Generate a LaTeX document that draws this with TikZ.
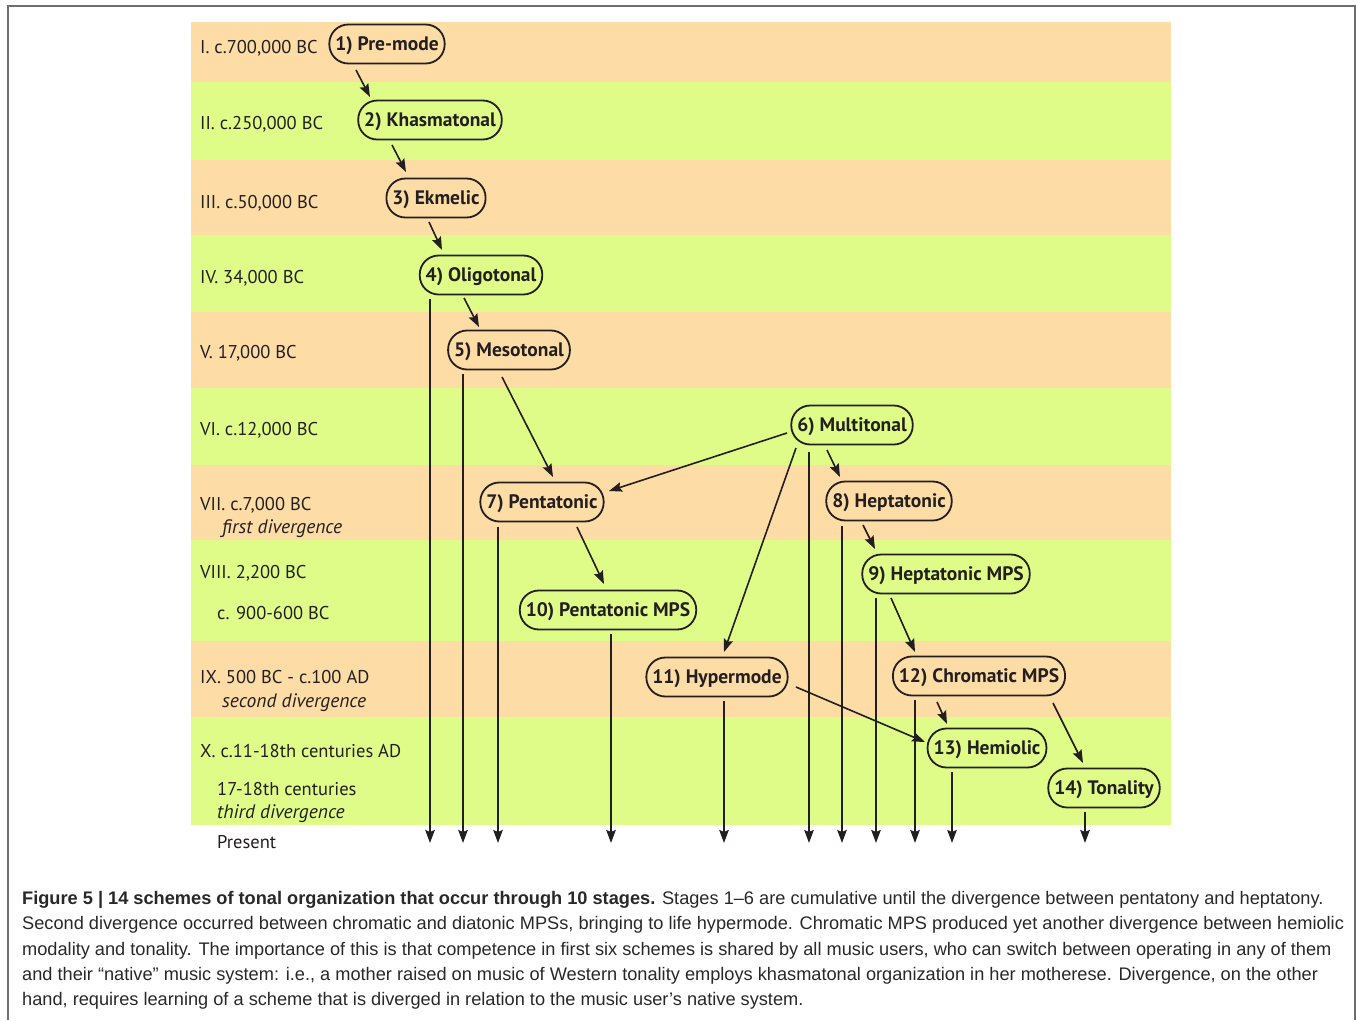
\documentclass[tikz,border=0pt]{standalone}
\usepackage{fontspec}
\setmainfont{PT Sans}
\newfontfamily\capfont{Liberation Sans}
\usetikzlibrary{arrows.meta,calc}
\definecolor{bandO}{RGB}{253,220,166}
\definecolor{bandG}{RGB}{224,252,136}
\definecolor{ink}{RGB}{35,31,32}
\definecolor{framegray}{RGB}{110,110,110}
\definecolor{captext}{RGB}{40,40,40}
\begin{document}
\begin{tikzpicture}[x=1pt,y=-1pt,
  scheme/.style={draw=ink, line width=1.8pt, rounded corners=19pt, minimum height=39pt,
    inner xsep=6pt, inner ysep=0pt, text height=14.5pt, text depth=2pt,
    font=\fontsize{19.5}{22}\selectfont\bfseries, text=ink},
  stagelbl/.style={anchor=base west, inner sep=0pt, font=\fontsize{18.5}{21}\selectfont, text=ink},
  divlbl/.style={stagelbl, font=\fontsize{19.5}{22}\selectfont\itshape},
  arr/.style={draw=ink, line width=1.6pt, -{Stealth[length=13pt,width=9.5pt,inset=2pt]}},
  capline/.style={anchor=base west, inner sep=0pt, font=\capfont\fontsize{18.2}{21}\selectfont, text=captext}
]
\useasboundingbox (0,0) rectangle (1357,1020);
% frame
\draw[framegray, line width=1.5pt] (8,1020) -- (8,6) -- (1355,6) -- (1355,1020);
% bands
\fill[bandO] (191,22) rectangle (1171,82);
\fill[bandG] (191,82) rectangle (1171,160);
\fill[bandO] (191,160) rectangle (1171,235);
\fill[bandG] (191,235) rectangle (1171,312);
\fill[bandO] (191,312) rectangle (1171,388);
\fill[bandG] (191,388) rectangle (1171,465);
\fill[bandO] (191,465) rectangle (1171,540);
\fill[bandG] (191,540) rectangle (1171,641);
\fill[bandO] (191,641) rectangle (1171,717);
\fill[bandG] (191,717) rectangle (1171,825);
% stage labels
\node[stagelbl] (s1) at (200,53) {I. c.700,000 BC};
\node[stagelbl] (s2) at (200,129) {II. c.250,000 BC};
\node[stagelbl] (s3) at (200,208) {III. c.50,000 BC};
\node[stagelbl] (s4) at (200,283) {IV. 34,000 BC};
\node[stagelbl] (s5) at (200,358) {V. 17,000 BC};
\node[stagelbl] (s6) at (200,435) {VI. c.12,000 BC};
\node[stagelbl] (s7) at (200,510) {VII. c.7,000 BC};
\node[divlbl] (d1) at (222,533) {first divergence};
\node[stagelbl] (s8) at (200,578) {VIII. 2,200 BC};
\node[stagelbl] (s8b) at (217,619) {c. 900-600 BC};
\node[stagelbl] (s9) at (200,683) {IX. 500 BC - c.100 AD};
\node[divlbl] (d2) at (222,707) {second divergence};
\node[stagelbl] (s10) at (200,757) {X. c.11-18th centuries AD};
\node[stagelbl] (s10b) at (217,795) {17-18th centuries};
\node[divlbl] (d3) at (217,818) {third divergence};
\node[stagelbl] (pres) at (217,848) {Present};
% schemes
\node[scheme] (n1) at (387,44) {1) Pre-mode};
\node[scheme] (n2) at (430,120) {2) Khasmatonal};
\node[scheme] (n3) at (436,198) {3) Ekmelic};
\node[scheme] (n4) at (481,275) {4) Oligotonal};
\node[scheme] (n5) at (509,350) {5) Mesotonal};
\node[scheme] (n6) at (852,425) {6) Multitonal};
\node[scheme] (n7) at (542,502) {7) Pentatonic};
\node[scheme] (n8) at (889,501) {8) Heptatonic};
\node[scheme] (n9) at (946,574) {9) Heptatonic MPS};
\node[scheme] (n10) at (608,610) {10) Pentatonic MPS};
\node[scheme] (n11) at (717,677) {11) Hypermode};
\node[scheme] (n12) at (979,676) {12) Chromatic MPS};
\node[scheme] (n13) at (987,748) {13) Hemiolic};
\node[scheme] (n14) at (1104,788) {14) Tonality};
% arrows between schemes
\draw[arr] ($(n1.center)+(-31,26)$) -- ($(n2.center)+(-60,-23)$);
\draw[arr] ($(n2.center)+(-38,25)$) -- ($(n3.center)+(-30,-26)$);
\draw[arr] ($(n3.center)+(-7,24)$) -- ($(n4.center)+(-39,-25)$);
\draw[arr] ($(n4.center)+(-17,23)$) -- ($(n5.center)+(-30,-23)$);
\draw[arr] ($(n5.center)+(-7,27)$) -- ($(n7.center)+(11,-25)$);
\draw[arr] ($(n6.center)+(-65,8)$) -- ($(n7.center)+(67,-11)$);
\draw[arr] ($(n6.center)+(-25,25)$) -- ($(n8.center)+(-49,-24)$);
\draw[arr] ($(n6.center)+(-56,23)$) -- ($(n11.center)+(7,-25)$);
\draw[arr] ($(n7.center)+(35,25)$) -- ($(n10.center)+(-4,-26)$);
\draw[arr] ($(n8.center)+(-26,24)$) -- ($(n9.center)+(-71,-25)$);
\draw[arr] ($(n9.center)+(-55,24)$) -- ($(n12.center)+(-64,-24)$);
\draw[arr] ($(n12.center)+(-42,26)$) -- ($(n13.center)+(-40,-24)$);
\draw[arr] ($(n12.center)+(74,27)$) -- ($(n14.center)+(-21,-25)$);
\draw[arr] ($(n11.center)+(79,10)$) -- ($(n13.center)+(-62,-6)$);
% arrows to the present
\coordinate (p4) at (430,843);
\coordinate (p5) at (463,843);
\coordinate (p7) at (498,843);
\coordinate (p10) at (611,843);
\coordinate (p11) at (724,843);
\coordinate (p6) at (809,843);
\coordinate (p8) at (842,843);
\coordinate (p9) at (876,843);
\coordinate (p12) at (915,843);
\coordinate (p13) at (952,843);
\coordinate (p14) at (1085,843);
\draw[arr] ($(n4.south -| p4)+(0,4)$) -- (p4);
\draw[arr] ($(n5.south -| p5)+(0,4)$) -- (p5);
\draw[arr] ($(n7.south -| p7)+(0,5)$) -- (p7);
\draw[arr] ($(n10.south -| p10)+(0,4)$) -- (p10);
\draw[arr] ($(n11.south -| p11)+(0,4)$) -- (p11);
\draw[arr] ($(n6.south -| p6)+(0,7)$) -- (p6);
\draw[arr] ($(n8.south -| p8)+(0,5)$) -- (p8);
\draw[arr] ($(n9.south -| p9)+(0,4)$) -- (p9);
\draw[arr] ($(n12.south -| p12)+(0,4)$) -- (p12);
\draw[arr] ($(n13.south -| p13)+(0,4)$) -- (p13);
\draw[arr] ($(n14.south -| p14)+(0,4)$) -- (p14);
% caption
\node[capline] (c1) at (22,904) {\textbf{Figure 5 | 14 schemes of tonal organization that occur through 10 stages.} Stages 1–6 are cumulative until the divergence between pentatony and heptatony.};
\node[capline] (c2) at (22,929) {Second divergence occurred between chromatic and diatonic MPSs, bringing to life hypermode. Chromatic MPS produced yet another divergence between hemiolic};
\node[capline] (c3) at (22,955) {modality and tonality. The importance of this is that competence in first six schemes is shared by all music users, who can switch between operating in any of them};
\node[capline] (c4) at (22,980) {and their “native” music system: i.e., a mother raised on music of Western tonality employs khasmatonal organization in her motherese. Divergence, on the other};
\node[capline] (c5) at (22,1005) {hand, requires learning of a scheme that is diverged in relation to the music user’s native system.};
\end{tikzpicture}
\end{document}
